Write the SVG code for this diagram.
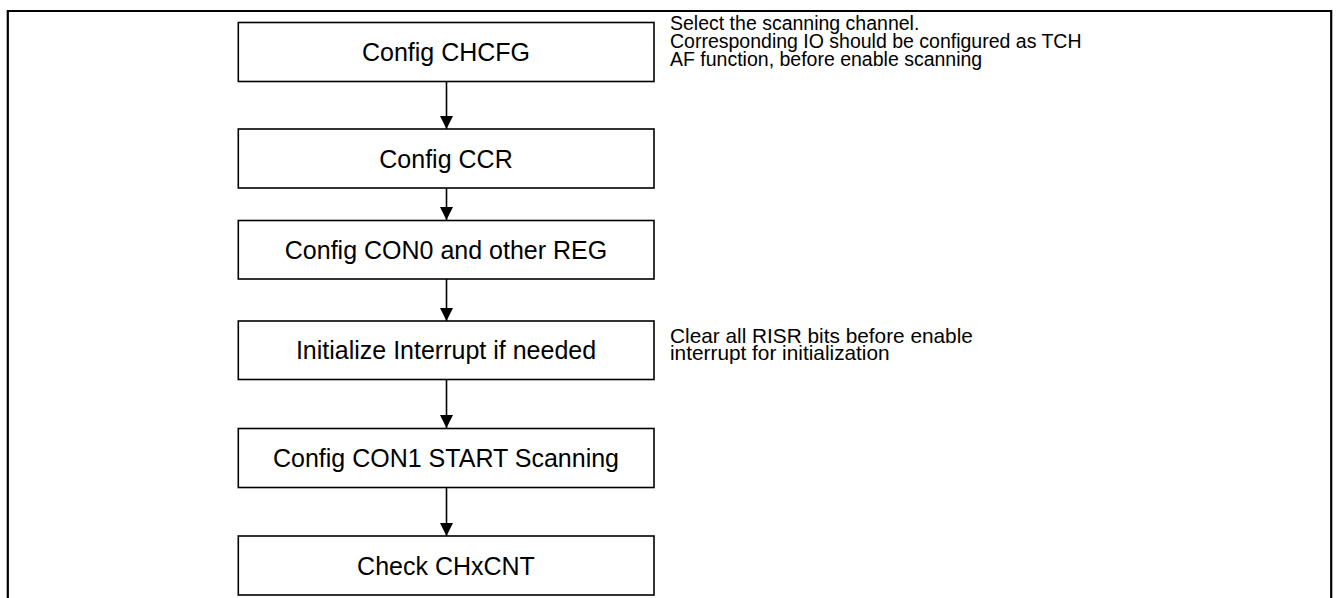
<svg xmlns="http://www.w3.org/2000/svg" width="1339" height="598" viewBox="0 0 1339 598">
<style>
.box{fill:#fff;stroke:#000;stroke-width:1.6}
.t{font-family:"Liberation Sans",Arial,sans-serif;font-size:25px;fill:#000;text-anchor:middle}
.n1{font-family:"Liberation Sans",Arial,sans-serif;font-size:19.5px;fill:#000}
.n2{font-family:"Liberation Sans",Arial,sans-serif;font-size:20.8px;fill:#000}
.c{stroke:#000;stroke-width:1.6;fill:none}
</style>
<defs>
<marker id="ah" viewBox="0 0 10 10" refX="10" refY="5" markerWidth="13" markerHeight="13" markerUnits="userSpaceOnUse" orient="auto">
<path d="M0,0 L10,5 L0,10 Z" fill="#000"/>
</marker>
</defs>
<rect width="1339" height="598" fill="#fff"/>
<path d="M7.8,598 V11 H1331.2 V598" fill="none" stroke="#000" stroke-width="2.2"/>
<g id="connectors">
<line class="c" x1="446.5" y1="81.5" x2="446.5" y2="129" marker-end="url(#ah)"/>
<line class="c" x1="446.5" y1="188" x2="446.5" y2="220" marker-end="url(#ah)"/>
<line class="c" x1="446.5" y1="279" x2="446.5" y2="321" marker-end="url(#ah)"/>
<line class="c" x1="446.5" y1="379" x2="446.5" y2="428" marker-end="url(#ah)"/>
<line class="c" x1="446.5" y1="487" x2="446.5" y2="536" marker-end="url(#ah)"/>
</g>
<g id="n1"><rect class="box" x="238.3" y="22.5" width="415.7" height="59"/><text class="t" x="446" y="61">Config CHCFG</text></g>
<g id="n2"><rect class="box" x="238.3" y="129" width="415.7" height="59"/><text class="t" x="446" y="167.5">Config CCR</text></g>
<g id="n3"><rect class="box" x="238.3" y="220.5" width="415.7" height="58.5"/><text class="t" x="446" y="259">Config CON0 and other REG</text></g>
<g id="n4"><rect class="box" x="238.3" y="321" width="415.7" height="58.5"/><text class="t" x="446" y="359">Initialize Interrupt if needed</text></g>
<g id="n5"><rect class="box" x="238.3" y="428.5" width="415.7" height="59"/><text class="t" x="446" y="467">Config CON1 START Scanning</text></g>
<g id="n6"><rect class="box" x="238.3" y="536" width="415.7" height="59"/><text class="t" x="446" y="574.5">Check CHxCNT</text></g>
<g id="note1">
<text class="n1" x="670" y="29.5">Select the scanning channel.</text>
<text class="n1" x="670" y="47.5">Corresponding IO should be configured as TCH</text>
<text class="n1" x="670" y="65.5">AF function, before enable scanning</text>
</g>
<g id="note2">
<text class="n2" x="670" y="343">Clear all RISR bits before enable</text>
<text class="n2" x="670" y="360">interrupt for initialization</text>
</g>
</svg>
